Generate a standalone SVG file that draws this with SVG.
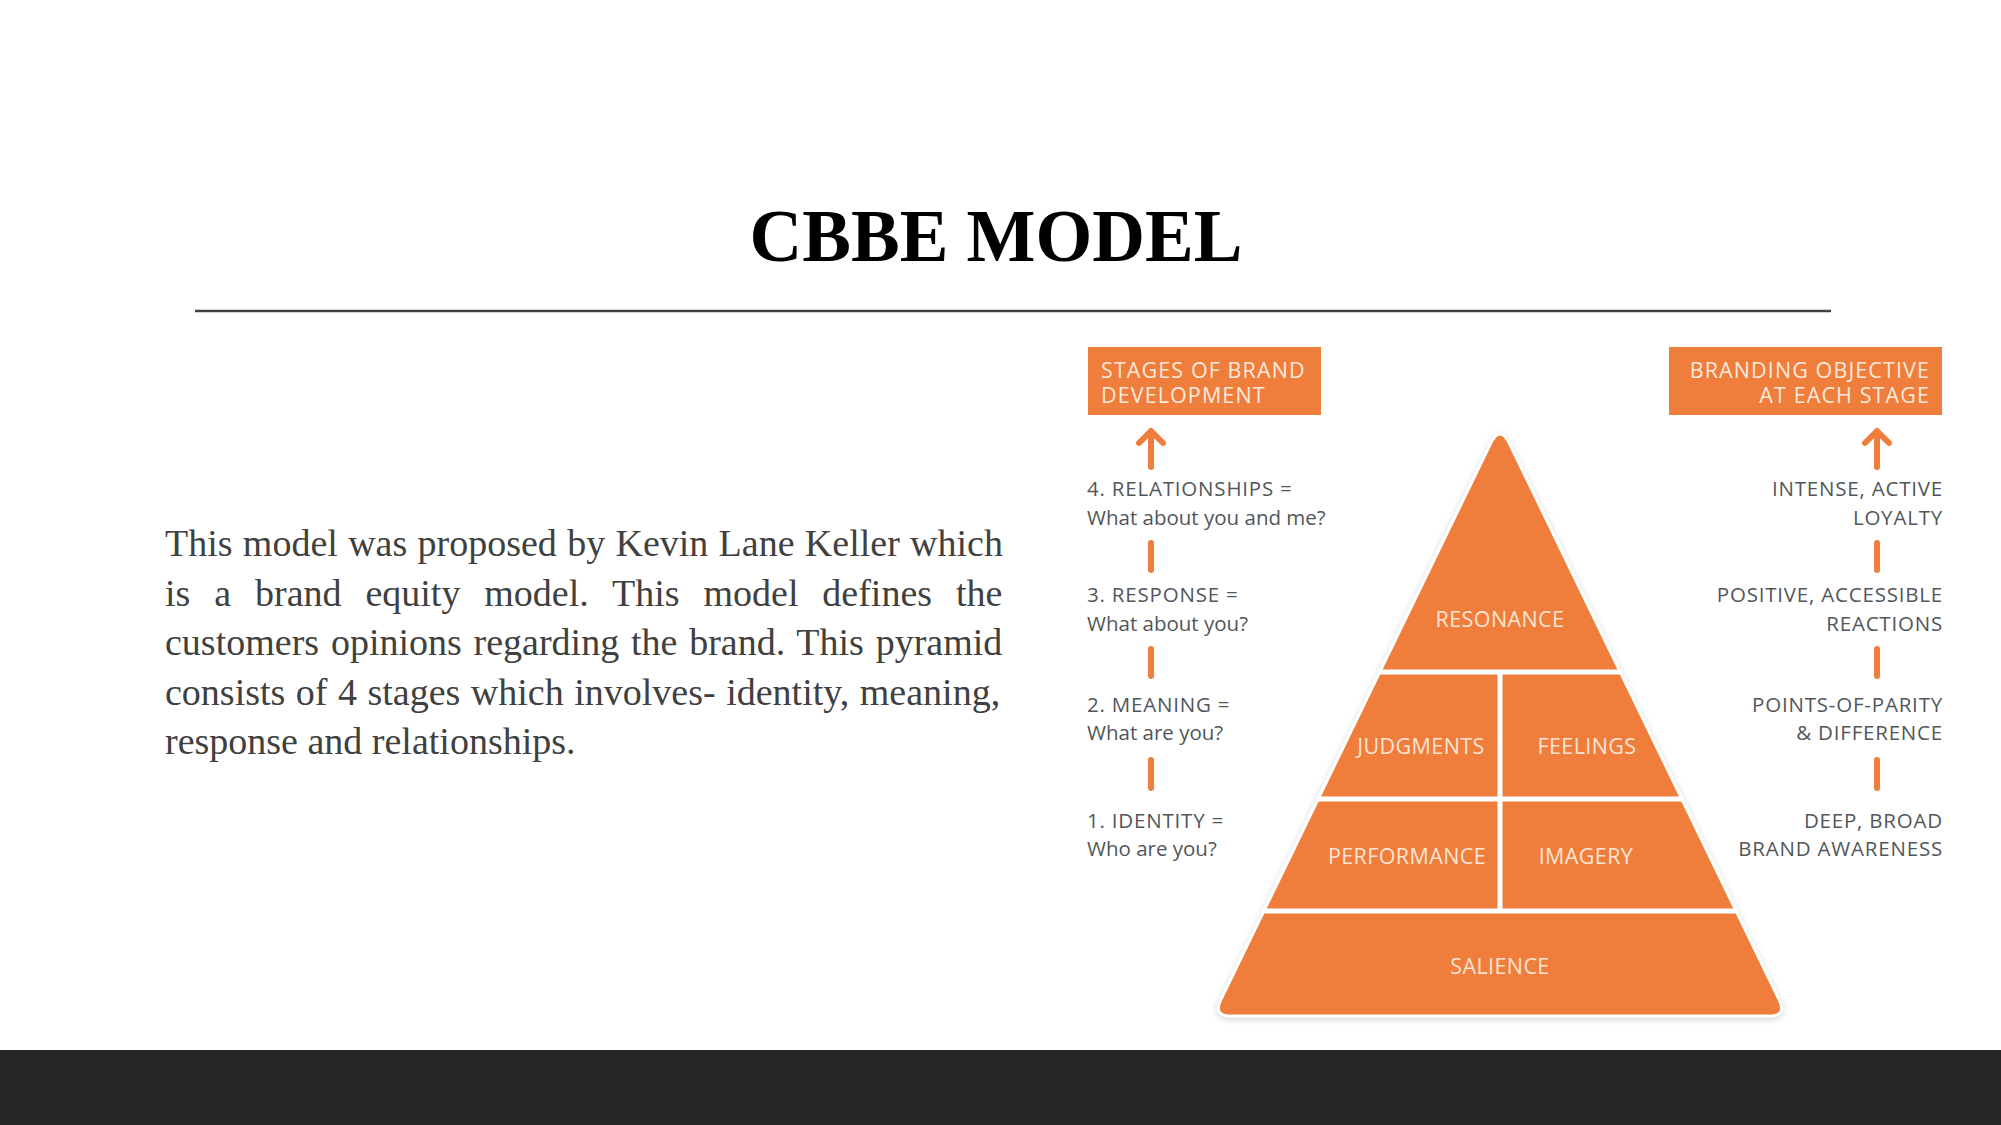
<svg xmlns="http://www.w3.org/2000/svg" width="2001" height="1125" viewBox="0 0 2001 1125">
<style>
.title{font-family:"Liberation Serif","Times New Roman",serif;font-weight:bold;font-size:73px;fill:#000;}
.para{font-family:"Liberation Serif","Times New Roman",serif;font-size:38px;fill:#404040;}
.hdr{font-family:"Open Sans","Noto Sans",sans-serif;font-size:21.5px;fill:#fde9dc;letter-spacing:1.1px;}
.lbl{font-family:"Open Sans","Noto Sans",sans-serif;font-size:20.5px;fill:#51565a;}
.caps{letter-spacing:0.8px;}
.pyr{font-family:"Open Sans","Noto Sans",sans-serif;font-size:21.5px;fill:#fde4d3;text-anchor:middle;letter-spacing:0.4px;}
.box{fill:#ef7d3b;}
.bar{stroke:#ef7d3b;stroke-width:6;stroke-linecap:round;stroke-linejoin:round;fill:none;}
.divider{stroke:#ffffff;stroke-width:5;}
</style>
<defs>
<filter id="shadow" x="-10%" y="-10%" width="120%" height="120%">
<feDropShadow dx="0" dy="2" stdDeviation="3" flood-color="#000" flood-opacity="0.18"/>
</filter>
<clipPath id="pclip">
<path d="M1490.3,444 Q1500,424 1509.7,444 L1779.2,999.8 Q1787.1,1016 1769.1,1016 L1230.9,1016 Q1212.9,1016 1220.8,999.8 Z"/>
</clipPath>
</defs>
<rect x="0" y="0" width="2001" height="1125" fill="#ffffff"/>

<g id="title">
<text class="title" x="996" y="261" text-anchor="middle">CBBE MODEL</text>
<line x1="195" y1="311" x2="1831" y2="311" stroke="#404040" stroke-width="2.5"/>
</g>

<g id="paragraph">
<text class="para" x="165" y="556" word-spacing="0.8">This model was proposed by Kevin Lane Keller which</text>
<text class="para" x="165" y="606" word-spacing="14.4">is a brand equity model. This model defines the</text>
<text class="para" x="165" y="655" word-spacing="2.3">customers opinions regarding the brand. This pyramid</text>
<text class="para" x="165" y="705" word-spacing="1.0">consists of 4 stages which involves- identity, meaning,</text>
<text class="para" x="165" y="754">response and relationships.</text>
</g>

<g id="stages-header">
<rect class="box" x="1088" y="347" width="233" height="68"/>
<text class="hdr" x="1101" y="378">STAGES OF BRAND</text>
<text class="hdr" x="1101" y="403">DEVELOPMENT</text>
</g>

<g id="objective-header">
<rect class="box" x="1669" y="347" width="273" height="68"/>
<text class="hdr" x="1930" y="378" text-anchor="end">BRANDING OBJECTIVE</text>
<text class="hdr" x="1930" y="403" text-anchor="end">AT EACH STAGE</text>
</g>

<g id="pyramid">
<path d="M1490.3,444 Q1500,424 1509.7,444 L1779.2,999.8 Q1787.1,1016 1769.1,1016 L1230.9,1016 Q1212.9,1016 1220.8,999.8 Z" fill="#ef7d3b" stroke="#ffffff" stroke-width="3" filter="url(#shadow)"/>
<g clip-path="url(#pclip)">
<line class="divider" x1="1200" y1="672" x2="1800" y2="672"/>
<line class="divider" x1="1200" y1="799" x2="1800" y2="799"/>
<line class="divider" x1="1200" y1="911" x2="1800" y2="911"/>
<line class="divider" x1="1500" y1="672" x2="1500" y2="911"/>
</g>
</g>
<g id="node-resonance"><text class="pyr" x="1500" y="627">RESONANCE</text></g>
<g id="node-judgments"><text class="pyr" x="1421" y="754">JUDGMENTS</text></g>
<g id="node-feelings"><text class="pyr" x="1587" y="754">FEELINGS</text></g>
<g id="node-performance"><text class="pyr" x="1407" y="864">PERFORMANCE</text></g>
<g id="node-imagery"><text class="pyr" x="1586" y="864">IMAGERY</text></g>
<g id="node-salience"><text class="pyr" x="1500" y="974">SALIENCE</text></g>

<g id="stages-labels">
<text class="lbl caps" x="1087" y="496">4. RELATIONSHIPS =</text>
<text class="lbl" x="1087" y="525">What about you and me?</text>
<text class="lbl caps" x="1087" y="602">3. RESPONSE =</text>
<text class="lbl" x="1087" y="631">What about you?</text>
<text class="lbl caps" x="1087" y="712">2. MEANING =</text>
<text class="lbl" x="1087" y="740">What are you?</text>
<text class="lbl caps" x="1087" y="828">1. IDENTITY =</text>
<text class="lbl" x="1087" y="856">Who are you?</text>
</g>

<g id="objective-labels">
<text class="lbl caps" x="1943" y="496" text-anchor="end">INTENSE, ACTIVE</text>
<text class="lbl caps" x="1943" y="525" text-anchor="end">LOYALTY</text>
<text class="lbl caps" x="1943" y="602" text-anchor="end">POSITIVE, ACCESSIBLE</text>
<text class="lbl caps" x="1943" y="631" text-anchor="end">REACTIONS</text>
<text class="lbl caps" x="1943" y="712" text-anchor="end">POINTS-OF-PARITY</text>
<text class="lbl caps" x="1943" y="740" text-anchor="end">&amp; DIFFERENCE</text>
<text class="lbl caps" x="1943" y="828" text-anchor="end">DEEP, BROAD</text>
<text class="lbl caps" x="1943" y="856" text-anchor="end">BRAND AWARENESS</text>
</g>

<g id="connectors">
<path class="bar" d="M1151,467 V431 M1139,443 L1151,431 L1163,443"/>
<path class="bar" d="M1151,543 V570"/>
<path class="bar" d="M1151,649 V676"/>
<path class="bar" d="M1151,760 V788"/>
<path class="bar" d="M1877,467 V431 M1865,443 L1877,431 L1889,443"/>
<path class="bar" d="M1877,543 V570"/>
<path class="bar" d="M1877,649 V676"/>
<path class="bar" d="M1877,760 V788"/>
</g>

<rect id="footer" x="0" y="1050" width="2001" height="75" fill="#262626"/>
</svg>
